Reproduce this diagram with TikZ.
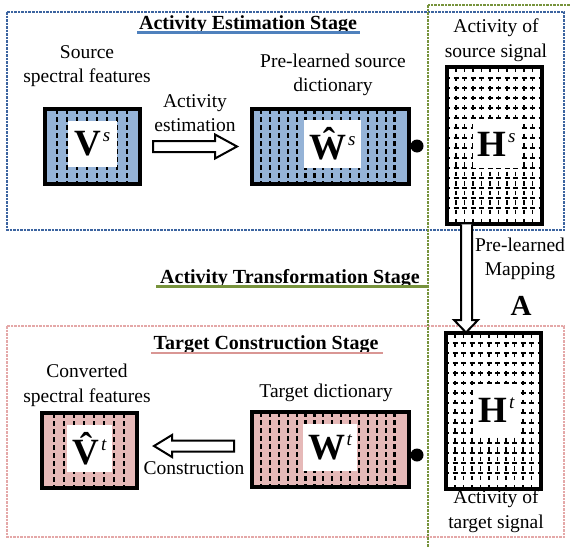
\documentclass[tikz,border=0pt]{standalone}
\usepackage{fontspec}
\setmainfont{Liberation Serif}
\definecolor{blueF}{RGB}{149,179,215}
\definecolor{blueL}{RGB}{60,100,160}
\definecolor{blueU}{RGB}{79,129,189}
\definecolor{greenL}{RGB}{119,147,60}
\definecolor{pinkF}{RGB}{230,185,184}
\definecolor{pinkL}{RGB}{228,168,168}
\definecolor{pinkU}{RGB}{217,150,148}
% matrix symbol: bold letter with italic superscript
\newcommand\matsym[2]{{\fontsize{37}{37}\selectfont\bfseries #1}\,{\fontsize{19}{19}\selectfont\itshape\raisebox{14pt}{#2}}}
\begin{document}
\begin{tikzpicture}[x=1pt,y=-1pt,
  lbl/.style={font=\fontsize{19.5}{24.5}\selectfont, align=center, inner sep=0},
  stagetitle/.style={font=\fontsize{20}{24}\selectfont\bfseries, inner sep=0, anchor=base},
  frame/.style={line width=1.6pt, dash pattern=on 2.5pt off 1pt},
  matbox/.style={draw=black, line width=2.6pt},
  inner/.style={fill=white, inner sep=0},
  coldash/.style={line width=2.2pt, dash pattern=on 5pt off 3pt, dash phase=1pt},
  vgrid/.style={line width=1.7pt, dash pattern=on 4.5pt off 5pt, dash phase=1pt},
  hgrid/.style={line width=1.7pt, dash pattern=on 5pt off 3.5pt, dash phase=3pt},
  hollow/.style={draw=black, fill=white, line width=2pt, line join=miter},
  dot/.style={circle, fill=black, inner sep=0, minimum size=13pt}]
\useasboundingbox (0,0) rectangle (570,546);

% ---- stage frames ----
\draw[frame, blueL] (7,12) rectangle (564,230);
\draw[frame, pinkL] (7,326) rectangle (564,537);
\begin{scope}
  \clip (0,0) rectangle (570,546);
  \draw[frame, greenL, line width=1.3pt] (428,5) rectangle (590,570);
\end{scope}

% ---- stage titles ----
\node[stagetitle] (t1) at (248,29) {Activity Estimation Stage};
\draw[blueU, line width=2.2pt] (137,32.5) -- (360,32.5);
\node[stagetitle] (t2) at (290,283) {Activity Transformation Stage};
\draw[greenL, line width=2.2pt] (156,286.5) -- (428,286.5);
\node[stagetitle] (t3) at (266,349) {Target Construction Stage};
\draw[pinkU, line width=2.2pt] (151,353) -- (383,353);

% ---- source features V^s ----
\node[matbox, fill=blueF, minimum width=93pt, minimum height=73pt] (Vs) at (92.5,146.5) {};
\foreach \x in {57,67,...,127} \draw[coldash] (\x,110) -- (\x,183);
\node[inner, minimum width=49pt, minimum height=46pt] (Vsi) at (92.5,144) {\matsym{V}{s}};
\draw[matbox] (Vs.north west) rectangle (Vs.south east);
\node[lbl] (VsL) at (87,66) {Source\\spectral features};

% ---- source dictionary W^s ----
\node[matbox, fill=blueF, minimum width=155pt, minimum height=73pt] (Ws) at (330.5,146.5) {};
\foreach \x in {261,269.9,...,402} \draw[coldash] (\x,110) -- (\x,183);
\node[inner, minimum width=57pt, minimum height=48pt] (Wsi) at (332.5,144) {\matsym{\^{W}}{s}};
\draw[matbox] (Ws.north west) rectangle (Ws.south east);
\node[lbl] (WsL) at (333,75) {Pre-learned source\\dictionary};
\node[dot] (d1) at (417,146) {};

% ---- activity estimation arrow ----
\coordinate (ae1) at (153,146.5);
\coordinate (ae2) at (237,146.5);
\draw[hollow] (ae1) ++(0,-5.5) -- (215,141) -- (215,134.5) -- (ae2) -- (215,158.5) -- (215,152) -- (153,152) -- cycle;
\node[lbl] (aeL) at (195,113) {Activity\\estimation};

% ---- source activity H^s ----
\node[matbox, minimum width=93pt, minimum height=155pt] (Hs) at (494.5,145.5) {};
\foreach \x in {456,464.5,...,534} \draw[vgrid] (\x,68) -- (\x,223);
\foreach \y in {78,88,...,215} \draw[hgrid] (448,\y) -- (541,\y);
\node[inner, minimum width=47pt, minimum height=48pt] (Hsi) at (496.5,144) {\matsym{H}{s}};
\draw[matbox] (Hs.north west) rectangle (Hs.south east);
\node[lbl] (HsL) at (496,40) {Activity of\\source signal};

% ---- mapping arrow ----
\draw[hollow] (Hs.south -| 461,0) -- (461,320) -- (454,320) -- (466,332.5) -- (478,320) -- (472,320) -- (Hs.south -| 472,0);
\node[lbl] (mapL) at (520,259) {Pre-learned\\Mapping};
\node[font=\fontsize{29}{29}\selectfont\bfseries, inner sep=0] (A) at (521,306) {A};

% ---- target activity H^t ----
\node[matbox, minimum width=93pt, minimum height=154pt] (Ht) at (493.5,411) {};
\foreach \x in {455,463.5,...,533} \draw[vgrid] (\x,334) -- (\x,488);
\foreach \y in {343,353,...,481} \draw[hgrid] (447,\y) -- (540,\y);
\node[inner, minimum width=47pt, minimum height=53pt] (Hti) at (496.5,410.5) {\matsym{H}{t}};
\draw[matbox] (Ht.north west) rectangle (Ht.south east);
\node[lbl] (HtL) at (496,511) {Activity of\\target signal};

% ---- target dictionary W^t ----
\node[matbox, fill=pinkF, minimum width=155pt, minimum height=73pt] (Wt) at (330.5,449.5) {};
\foreach \x in {261,269.9,...,402} \draw[coldash] (\x,413) -- (\x,486);
\node[inner, minimum width=54pt, minimum height=47pt] (Wti) at (330,447.5) {\matsym{W}{t}};
\draw[matbox] (Wt.north west) rectangle (Wt.south east);
\node[lbl] (WtL) at (326,393) {Target dictionary};
\node[dot] (d2) at (417,455) {};

% ---- construction arrow ----
\coordinate (c1) at (234,446);
\coordinate (c2) at (154,446);
\draw[hollow] (c1) ++(0,-5.5) -- (172,440.5) -- (172,435) -- (c2) -- (172,457) -- (172,451.5) -- (234,451.5) -- cycle;
\node[lbl] (cL) at (194,468) {Construction};

% ---- converted features V^t ----
\node[matbox, fill=pinkF, minimum width=93pt, minimum height=73pt] (Vt) at (89.5,450.5) {};
\foreach \x in {54,64,...,124} \draw[coldash] (\x,414) -- (\x,487);
\node[inner, minimum width=45pt, minimum height=47pt] (Vti) at (89.5,448.5) {\matsym{\^{V}}{t}};
\draw[matbox] (Vt.north west) rectangle (Vt.south east);
\node[lbl] (VtL) at (87,385.5) {Converted\\spectral features};
\end{tikzpicture}
\end{document}
